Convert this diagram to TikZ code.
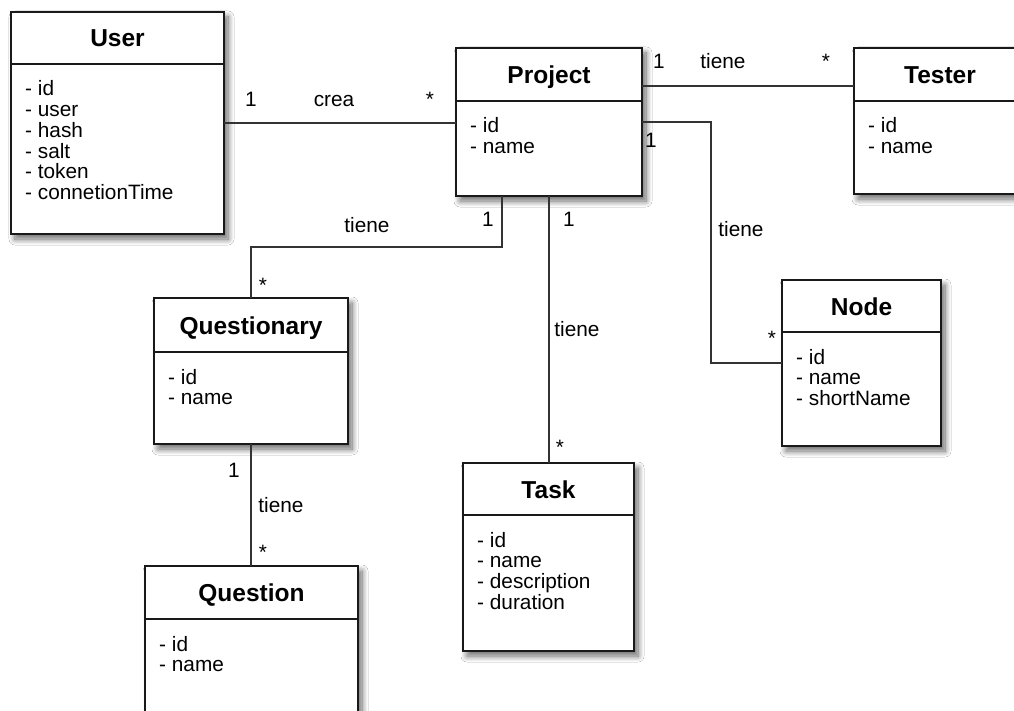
\documentclass[tikz,border=0pt]{standalone}
\usepackage{fontspec}
\setmainfont{Liberation Sans}
\usetikzlibrary{calc,shadows.blur}

\tikzset{
  classbox/.style={rectangle, draw=black!90, line width=1.6pt, fill=white,
    inner sep=0pt, outer sep=0pt,
    blur shadow={shadow xshift=4pt, shadow yshift=-5pt, shadow blur radius=6pt,
      shadow blur steps=12, shadow opacity=60}},
  rule/.style={draw=black!90, line width=1.6pt},
  classtitle/.style={anchor=base, inner sep=0pt, font=\fontsize{24.5}{25}\selectfont\bfseries},
  attr/.style={anchor=base west, inner sep=0pt, font=\fontsize{20.8}{21}\selectfont},
  lbl/.style={anchor=base, inner sep=0pt, font=\fontsize{20.8}{21}\selectfont},
  link/.style={draw=black!80, line width=1.6pt},
}

% #1 name, #2 left, #3 top, #4 right, #5 bottom, #6 divider, #7 title, #8 attributes
\newcommand\umlclass[8]{%
  \node[classbox, minimum width={(#4-#2)*1pt}, minimum height={(#5-#3)*1pt}]
    (#1) at ({(#2+#4)/2},{(#3+#5)/2}) {};
  \draw[rule] (#2,#6) -- (#4,#6);
  \node[classtitle] (#1-title) at ({(#2+#4)/2},{(#3+#6)/2+9}) {#7};
  \foreach \a [count=\i] in {#8}
    \node[attr] (#1-attr\i) at ({#2+14},{#6+32+20.7*(\i-1)}) {- \a};
}

\begin{document}
\begin{tikzpicture}[x=1pt, y=-1pt]
  \useasboundingbox (0,0) rectangle (1014,711);
  \fill[white] (0,0) rectangle (1014,711);
  \clip (0,0) rectangle (1014,711);

  % classes
  \umlclass{user}{11}{12}{224}{234}{64}{User}{id,user,hash,salt,token,connetionTime}
  \umlclass{project}{456}{48}{642}{196}{101}{Project}{id,name}
  \umlclass{tester}{854}{48}{1026}{194}{101}{Tester}{id,name}
  \umlclass{questionary}{154}{298}{348}{444}{352}{Questionary}{id,name}
  \umlclass{question}{145}{566}{358}{760}{619}{Question}{id,name}
  \umlclass{nodecls}{782}{280}{941}{446}{332}{Node}{id,name,shortName}
  \umlclass{task}{463}{463}{634}{651}{515}{Task}{id,name,description,duration}

  % associations
  \draw[link] (user.east) -- (user.east -| project.west);
  \draw[link] ($(project.north east)+(0,38)$) coordinate (pt)
    -- (pt -| tester.west);
  \draw[link] (project.east) -- ++(69,0) |- (nodecls.west);
  \draw[link] ($(project.south)+(-47,0)$) -- ++(0,51) -| (questionary.north);
  \draw[link] (project.south) -- (project.south |- task.north);
  \draw[link] (questionary.south) -- (questionary.south |- question.north);

  % multiplicities and role names
  \node[lbl] (m1) at (251,107) {1};
  \node[lbl] (r1) at (334,107) {crea};
  \node[lbl] (n1) at (430,107) {*};

  \node[lbl] (m2) at (659,69) {1};
  \node[lbl] (r2) at (723,69) {tiene};
  \node[lbl] (n2) at (826,69) {*};

  \node[lbl] (m3) at (651,148) {1};
  \node[lbl] (r3) at (741,237) {tiene};
  \node[lbl] (n3) at (772,345) {*};

  \node[lbl] (m4) at (488,227) {1};
  \node[lbl] (r4) at (367,233) {tiene};
  \node[lbl] (n4) at (263,292) {*};

  \node[lbl] (m5) at (569,227) {1};
  \node[lbl] (r5) at (577,336) {tiene};
  \node[lbl] (n5) at (560,454) {*};

  \node[lbl] (m6) at (234,477) {1};
  \node[lbl] (r6) at (281,512) {tiene};
  \node[lbl] (n6) at (263,559) {*};
\end{tikzpicture}
\end{document}
